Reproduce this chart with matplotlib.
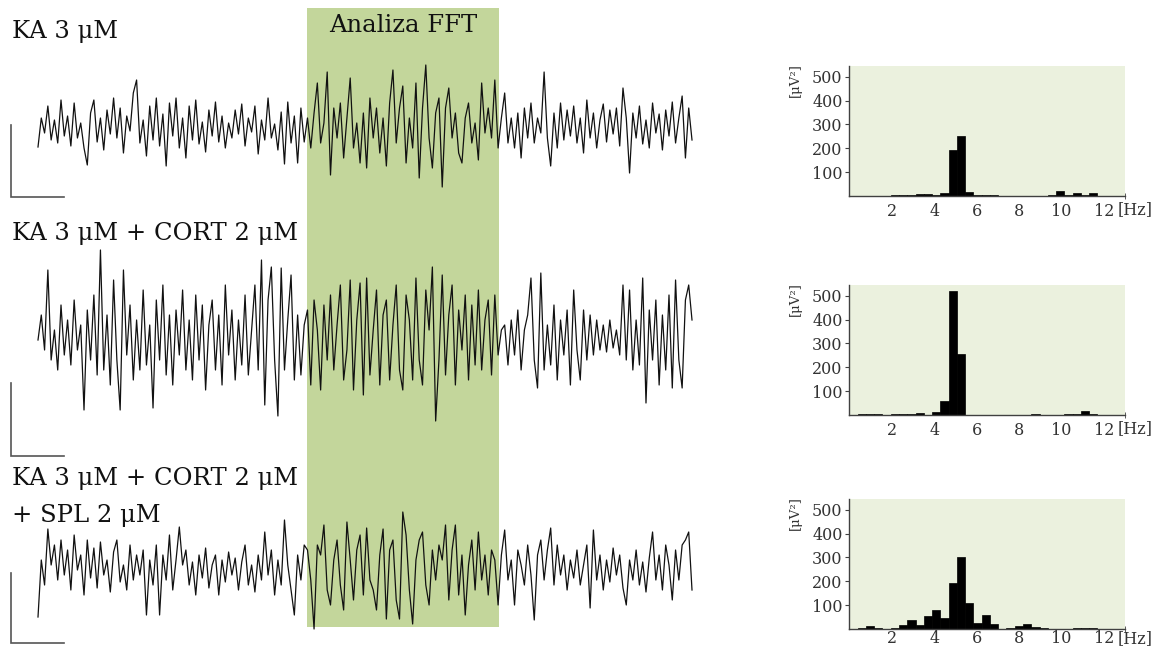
import numpy as np
import matplotlib.pyplot as plt
from matplotlib.patches import Rectangle

plt.rcParams['font.family'] = ['DejaVu Serif']

# traces (amplitude, arbitrary units ~ px of the reference), 200 samples each
trace_ka = [
    -19, 10, -5, 22, -12, 8, -15, 28, -8, 12,
    -18, 25, -10, 5, -20, -37, 15, 28, -14, 10,
    -22, 18, -6, 30, -10, 20, -25, 12, -3, 35,
    48, -15, 8, -28, 22, -12, 30, -18, 14, -38,
    25, -8, 30, -20, 10, -30, 22, -12, 28, -16,
    6, -24, 18, -8, 26, -14, 12, -20, 5, -10,
    18, -6, 24, -18, 10, -4, 22, -26, 8, -12,
    30, -10, 4, -22, 16, -36, 26, -15, 12, -35,
    20, -14,
    10, -20, 15, 45, -15, 5, 56, -47, 20, -10,
    25, -30, 10, 50, -20, 5, -35, 15, -40, 30,
    -10, 20, -25, 10, -38, 25, 58, -15, 20, 42,
    -35, 10, -20, 45, -50, 20, 63, -10, -40, 15,
    30, -59, 20, 40, -10, 15, -25, -35, 10, 25,
    -15, 5, -32, 45, -5, 20, -10, 48, -20, 10,
    35, -15, 10, -20, 15, -30, 20, -10, 25, -15,
    10, -5, 56, -10, -38, 15, -20, 25, -12, 18,
    -8, 22, -15, 10, -25, 28, -10, 15, -20, 8,
    24, -14, 18, -6, 20, -18, 40, 10, -45, 15,
    -10, 22, -16, 8, -20, 25, -5, 14, -22, 18,
    -8, 26, -15, 10, 32, -30, 20, -12,
]
trace_ka_cort = [
    0, 25, -10, 70, -20, 10, -30, 35, -15, 20,
    -25, 40, -10, 15, -70, 30, -20, 45, -35, 90,
    -30, 25, -45, 60, -20, -70, 70, -15, 35, -40,
    20, -30, 50, -25, 15, -68, 40, -20, 55, -35,
    25, -45, 30, -15, 50, -30, 20, -40, 45, -20,
    35, -50, 15, 40, -30, 25, -45, 55, -15, 30,
    -40, 20, -25, 45, -35, 10, 55, -30, 80, -65,
    40, 73, -20, -76, 72, -30, 20, 65, -40, 25,
    -35, 15,
    30, -45, 40, 10, -50, 35, -20, 45, -30, 15,
    55, -40, -10, 60, -50, 20, 57, -55, 62, -35,
    10, 50, -45, 25, 40, -40, 15, 55, -30, -50,
    45, 20, -40, 62, -20, -45, 50, 10, 73, -81,
    -20, 65, -35, 25, 55, -45, 30, -10, 45, -40,
    35, -25, 50, -30, 20, 40, -35, 45, -15, 10,
    15, -25, 20, -15, 30, -30, 10, 25, 62, -20,
    -48, 67, -30, 15, -25, 35, -40, 20, -15, 30,
    -45, 50, -10, -40, 30, -20, 25, -15, 20, -10,
    15, -12, 20, -8, 10, -15, 55, -20, 50, -30,
    20, -25, 62, -63, 30, -20, 40, -45, 25, -30,
    45, -48, 60, -20, -48, 40, 55, 20,
]
trace_ka_cort_spl = [
    -47, 10, -15, 41, 5, 25, -10, 30, -5, 20,
    -20, 35, 0, 15, -25, 30, -8, 22, -18, 28,
    -5, 10, -22, 18, 30, -12, 5, -20, 25, -10,
    15, -5, 20, -45, 10, -15, 25, -45, 15, -10,
    35, -20, 10, 43, 5, 20, -15, 8, -25, 15,
    -8, 22, -18, 5, 15, -25, 10, -12, 18, -5,
    12, -20, 8, 25, -15, 5, -22, 15, -10, 38,
    -5, 20, -25, 10, -15, 50, 5, -20, -45, 15,
    -10, 25,
    20, -10, -59, 25, 15, 45, -20, -35, 10, 30,
    -15, -40, 48, 10, -30, 20, 35, -25, 42, -10,
    -20, -40, 15, 41, -49, 20, 30, -30, -49, 58,
    35, -20, -54, 10, 30, 38, -15, -35, 20, -10,
    25, 10, 45, -30, 20, 45, -25, 15, -45, 5,
    30, -20, 38, -10, 15, -25, 20, 10, -35, 15,
    40, -10, 10, -35, 20, 5, -15, 25, -5, -50,
    15, 30, -10, 20, 42, -15, 25, -5, 15, -20,
    10, -8, 20, -15, 5, 25, -38, 40, -10, 15,
    -20, 10, -12, 22, -5, 15, -18, -35, 10, -10,
    20, -15, 8, -22, 12, 38, -10, 15, -20, 25,
    5, -30, 20, -10, 25, 30, 38, -20,
]
labels = [["KA 3 μM"], ["KA 3 μM + CORT 2 μM"], ["KA 3 μM + CORT 2 μM", "+ SPL 2 μM"]]

# FFT power spectra, bins of 0.39 Hz starting at 0 Hz  [μV²]
bin_width = 0.39
fft_ka = [0, 0, 0, 0, 0, 4, 4, 5, 8, 8, 3, 12, 195, 250, 15, 3, 3, 3, 0, 0,
          0, 0, 0, 0, 5, 21, 5, 12, 5, 12, 0]
fft_ka_cort = [0, 3, 3, 3, 0, 3, 3, 5, 8, 2, 12, 60, 520, 255, 1, 1, 1, 1, 1, 1,
               1, 1, 3, 2, 1, 1, 5, 3, 15, 5, 2]
fft_ka_cort_spl = [0, 3, 12, 5, 0, 3, 18, 38, 15, 55, 80, 45, 195, 300, 110, 25, 60, 20, 2, 5,
                   12, 22, 8, 4, 2, 2, 2, 5, 5, 5, 0]
hz_ticks = [2, 4, 6, 8, 10, 12]
power_ticks = [100, 200, 300, 400, 500]

W, H = 1153, 648
fig = plt.figure(figsize=(W / 100, H / 100), dpi=100)

# left panel drawn in pixel coordinates
ax = fig.add_axes([0, 0, 1, 1])
ax.set_xlim(0, W)
ax.set_ylim(H, 0)
ax.axis('off')

ax.add_patch(Rectangle((307, 8), 192, 619, facecolor='#c3d69b', edgecolor='none', zorder=0))
ax.text(403, 32, "Analiza FFT", ha='center', va='baseline', fontsize=17.5, color='#111111')

traces = [trace_ka, trace_ka_cort, trace_ka_cort_spl]
centers = [128, 340, 570]
label_y = [[38], [240], [485, 522]]
bars = [(125, 197), (383, 456), (573, 643)]
for tr, c, lab, ly, (b0, b1) in zip(traces, centers, labels, label_y, bars):
    x = np.linspace(38, 692, len(tr))
    ax.plot(x, c - np.array(tr), color='#111111', lw=0.9, zorder=2)
    for s, yy in zip(lab, ly):
        ax.text(12, yy, s, ha='left', va='baseline', fontsize=17.5, color='#111111')
    ax.plot([11, 11, 64], [b0, b1, b1], color='#555555', lw=1.2, solid_joinstyle='miter')

# FFT histograms
spectra = [fft_ka, fft_ka_cort, fft_ka_cort_spl]
bottoms = [0.6975, 0.3596, 0.0293]
pads = [5, 5, 1]
for spec, b, p in zip(spectra, bottoms, pads):
    h = fig.add_axes([0.7367, b, 0.239, 0.2006])
    h.set_facecolor('#ebf1de')
    edges = np.arange(len(spec)) * bin_width
    h.bar(edges, spec, width=bin_width, align='edge', color='black', edgecolor='black', lw=0.5)
    h.set_xlim(0, 13)
    h.set_ylim(0, 545)
    for s in ['top', 'right']:
        h.spines[s].set_visible(False)
    for s in ['left', 'bottom']:
        h.spines[s].set_color('#404040')
        h.spines[s].set_linewidth(1.0)
    h.set_xticks(hz_ticks)
    h.set_xticks([13], minor=True)
    h.set_yticks(power_ticks)
    h.tick_params(axis='x', which='major', length=0, pad=p, labelsize=11.5, labelcolor='#333333')
    h.tick_params(axis='x', which='minor', length=5, direction='inout', color='#404040')
    h.tick_params(axis='y', length=3, pad=2, labelsize=11.5, labelcolor='#333333', color='#404040')
    h.text(12.67, 0, "[Hz]", transform=h.get_xaxis_transform(), ha='left', va='top',
           fontsize=11.5, color='#333333').set_y(-p / 130.0)
    h.text(-0.195, 1.02, "[μV²]", transform=h.transAxes, rotation=90, ha='center', va='top',
           fontsize=9.5, color='#333333')

fig.savefig('out.png', dpi=100)
